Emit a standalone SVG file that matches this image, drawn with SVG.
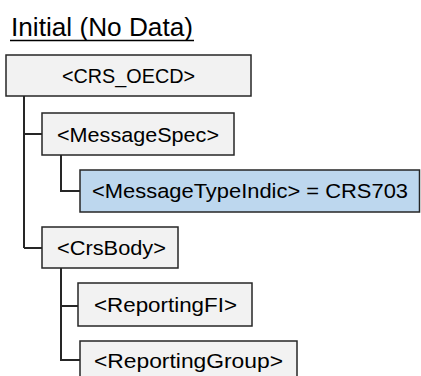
<svg xmlns="http://www.w3.org/2000/svg" width="421" height="376" viewBox="0 0 421 376">
<style>
.box{fill:#f2f2f2;stroke:#262626;stroke-width:1.5}
.sel{fill:#bdd7ee;stroke:#262626;stroke-width:1.5}
.t{font-family:"Liberation Sans",Arial,sans-serif;font-size:20.5px;fill:#000}
.conn{fill:none;stroke:#262626;stroke-width:2}
</style>
<rect width="421" height="376" fill="#fff"/>
<g id="title">
<text x="11" y="36" font-family="Liberation Sans,Arial,sans-serif" font-size="26" textLength="182" lengthAdjust="spacingAndGlyphs">Initial (No Data)</text>
<line x1="10" y1="40.5" x2="194" y2="40.5" stroke="#000" stroke-width="1.5"/>
</g>
<g id="connectors">
<path class="conn" d="M24 96V248M24 134H42M24 248H42"/>
<path class="conn" d="M61 155V191H80"/>
<path class="conn" d="M61 268V360H80M61 306H78"/>
</g>
<g id="crs_oecd">
<rect class="box" x="6" y="55" width="245" height="41"/>
<text class="t" x="62" y="83" textLength="133" lengthAdjust="spacingAndGlyphs">&lt;CRS_OECD&gt;</text>
</g>
<g id="messagespec">
<rect class="box" x="42" y="113" width="192" height="42"/>
<text class="t" x="57" y="141.5" textLength="162" lengthAdjust="spacingAndGlyphs">&lt;MessageSpec&gt;</text>
</g>
<g id="messagetypeindic">
<rect class="sel" x="80" y="170" width="339.5" height="42"/>
<text class="t" x="92" y="198" textLength="316" lengthAdjust="spacingAndGlyphs">&lt;MessageTypeIndic&gt;  = CRS703</text>
</g>
<g id="crsbody">
<rect class="box" x="42" y="227" width="136" height="41"/>
<text class="t" x="57" y="255" textLength="109" lengthAdjust="spacingAndGlyphs">&lt;CrsBody&gt;</text>
</g>
<g id="reportingfi">
<rect class="box" x="78" y="283" width="174" height="43"/>
<text class="t" x="94" y="312" textLength="143" lengthAdjust="spacingAndGlyphs">&lt;ReportingFI&gt;</text>
</g>
<g id="reportinggroup">
<rect class="box" x="80" y="341" width="217" height="40"/>
<text class="t" x="94" y="368" textLength="189" lengthAdjust="spacingAndGlyphs">&lt;ReportingGroup&gt;</text>
</g>
</svg>
